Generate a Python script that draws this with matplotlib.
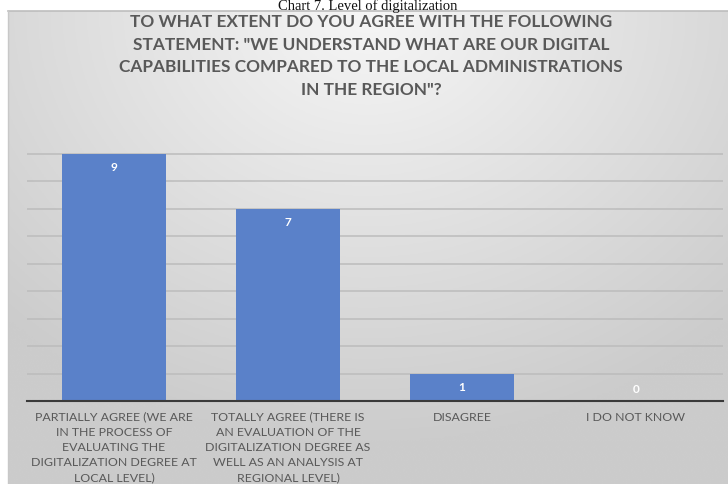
import numpy as np
import matplotlib
matplotlib.use("Agg")
import matplotlib.pyplot as plt

caption = "Chart 7. Level of digitalization"
title_lines = [
    "TO WHAT EXTENT DO YOU AGREE WITH THE FOLLOWING",
    "STATEMENT: \"WE UNDERSTAND WHAT ARE OUR DIGITAL",
    "CAPABILITIES COMPARED TO THE LOCAL ADMINISTRATIONS",
    "IN THE REGION\"?",
]
categories = [
    "PARTIALLY AGREE (WE ARE\nIN THE PROCESS OF\nEVALUATING THE\nDIGITALIZATION DEGREE AT\nLOCAL LEVEL)",
    "TOTALLY AGREE (THERE IS\nAN EVALUATION OF THE\nDIGITALIZATION DEGREE AS\nWELL AS AN ANALYSIS AT\nREGIONAL LEVEL)",
    "DISAGREE",
    "I DO NOT KNOW",
]
values = [9, 7, 1, 0]
grid_ticks = [1, 2, 3, 4, 5, 6, 7, 8, 9]

W, H = 728, 485
fig = plt.figure(figsize=(W / 100, H / 100), dpi=100)
fig.patch.set_facecolor("white")

# background chart panel with gradient
bx0, by_top = 8, 12
bg = fig.add_axes([bx0 / W, 0, (W - bx0) / W, (H - by_top) / H])
ny, nx = 200, 300
yy, xx = np.mgrid[0:ny, 0:nx]
dx = (xx / (nx - 1) - 0.5) * 1.4
dy = (yy / (ny - 1)) * 1.1
r = np.clip(np.sqrt(dx ** 2 + dy ** 2), 0, 1)
val = 0.965 - 0.165 * r
img = np.dstack([val, val, val])
bg.imshow(img, aspect="auto", extent=[0, 1, 0, 1], origin="upper")
bg.set_xlim(0, 1)
bg.set_ylim(0, 1)
bg.axis("off")
bg.plot([0, 1], [1, 1], color="#bdbdbd", lw=1.2, transform=bg.transAxes, clip_on=False)
bg.plot([0, 0], [0, 1], color="#c8c8c8", lw=1.0, transform=bg.transAxes, clip_on=False)

# main axes
left, right = 27, 723
base_y = 402
unit = 27.5
ymax = 10
ax = fig.add_axes([left / W, (H - base_y) / H, (right - left) / W, ymax * unit / H])
ax.set_facecolor("none")
x = np.arange(len(categories))
bars = ax.bar(x, values, width=0.6, color="#5a81c9", zorder=3)
ax.set_xlim(-0.5, len(categories) - 0.5)
ax.set_ylim(0, ymax)
ax.set_yticks(grid_ticks)
ax.yaxis.grid(True, color="#bcbcbc", lw=1.1, zorder=0)
ax.tick_params(axis="y", left=False, labelleft=False)
for s in ["top", "right", "left"]:
    ax.spines[s].set_visible(False)
ax.spines["bottom"].set_color("#3a3a3a")
ax.spines["bottom"].set_linewidth(1.5)
ax.spines["bottom"].set_zorder(4)
ax.set_xticks(x)
ax.set_xticklabels(categories, fontsize=8.9, color="#595959", family="Lato",
                   linespacing=1.45)
ax.tick_params(axis="x", length=0, pad=7)

for xi, v in zip(x, values):
    off = -13 if v > 0 else 12
    ax.annotate(str(v), (xi, v), xytext=(0, off), textcoords="offset pixels",
                ha="center", va="center", color="white", fontsize=8.5,
                fontweight="bold", family="Lato", zorder=5)

# title
title_y = [22, 45, 67.5, 90]
for line, ty in zip(title_lines, title_y):
    fig.text(371 / W, 1 - ty / H, line, ha="center", va="center", fontsize=12.4,
             fontweight="bold", color="#595959", family="Lato")

# caption
fig.text(368 / W, 1 - 10 / H, caption, ha="center", va="baseline", fontsize=10.5,
         color="#111111", family="Liberation Serif")

fig.savefig("out.png", dpi=100)
